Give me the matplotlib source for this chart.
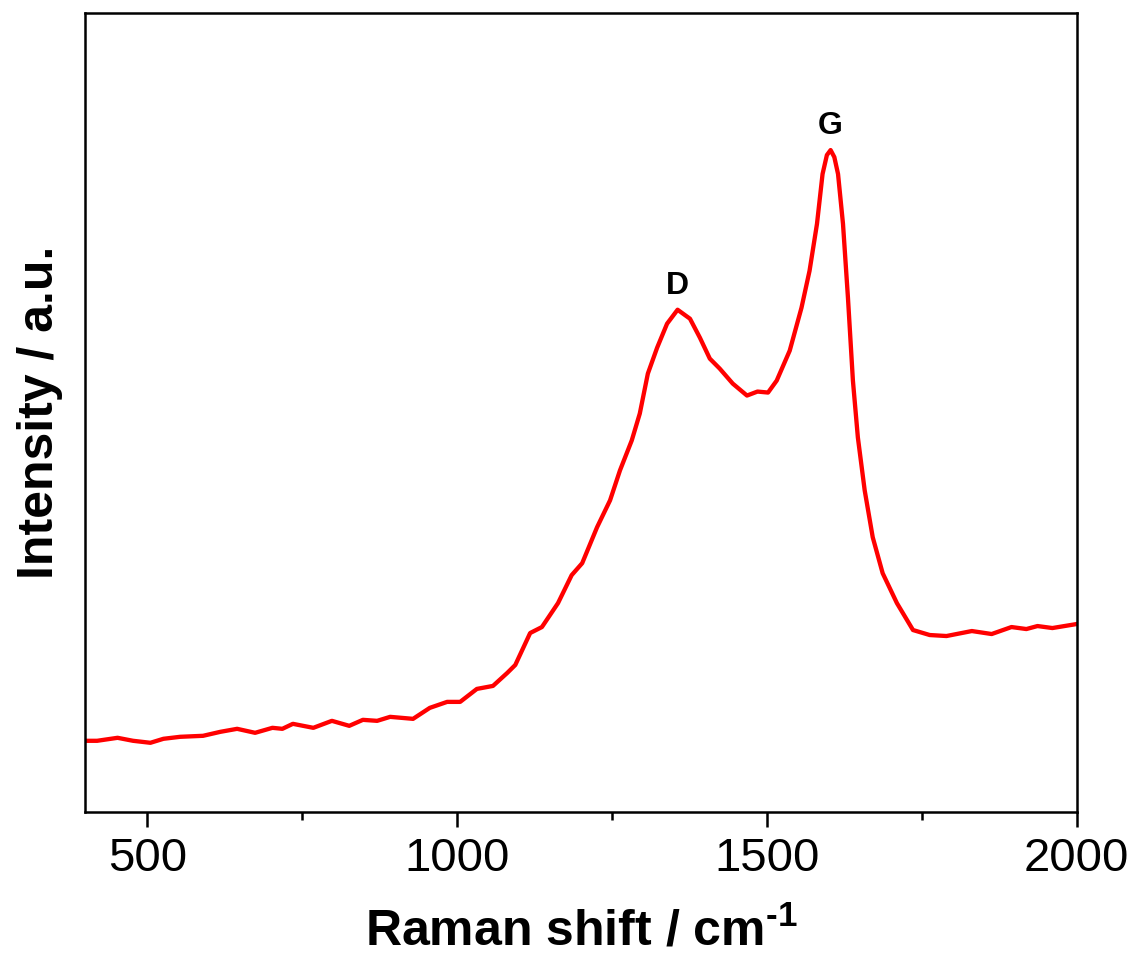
import matplotlib
matplotlib.use("Agg")
import matplotlib.pyplot as plt

plt.rcParams['font.family'] = ['Liberation Sans', 'DejaVu Sans']
plt.rcParams['mathtext.fontset'] = 'custom'
plt.rcParams['mathtext.rm'] = 'Liberation Sans'
plt.rcParams['mathtext.bf'] = 'Liberation Sans:bold'

# Raman spectrum (intensity in arbitrary units)
shift = [400, 419, 452, 477, 505, 526, 553, 590, 618, 645, 674, 702, 718, 735,
         768, 798, 826, 848, 871, 892, 929, 956, 984, 1005, 1032, 1058, 1081,
         1094, 1118, 1137, 1163, 1185, 1202, 1226, 1247, 1263, 1282, 1295,
         1308, 1323, 1339, 1356, 1376, 1392, 1408, 1424, 1445, 1468, 1485,
         1502, 1516, 1537, 1556, 1569, 1581, 1590, 1597, 1603, 1609, 1615,
         1623, 1631, 1639, 1647, 1658, 1671, 1687, 1710, 1736, 1763, 1790,
         1831, 1863, 1895, 1919, 1937, 1961, 2000]
intensity = [71, 71, 74, 71, 69, 73, 75, 76, 80, 83, 79, 84, 83, 88,
             84, 91, 86, 92, 91, 95, 93, 104, 110, 110, 123, 126, 139,
             147, 179, 185, 209, 237, 249, 285, 312, 342, 372, 399,
             439, 465, 489, 503, 494, 475, 454, 444, 429, 417, 421,
             420, 432, 462, 505, 542, 589, 639, 658, 663, 656, 639,
             589, 515, 432, 375, 322, 275, 239, 209, 182, 177, 176,
             181, 178, 185, 183, 186, 184, 188]

peak_names = ['D', 'G']
peak_pos = [1356, 1603]
peak_height = [503, 663]

fig, ax = plt.subplots(figsize=(11.38, 9.56), dpi=100)
fig.subplots_adjust(left=0.075, right=0.946, top=0.986, bottom=0.151)

ax.plot(shift, intensity, color='#ff0000', lw=3.1, solid_joinstyle='round')

for name, xp, yp in zip(peak_names, peak_pos, peak_height):
    ax.text(xp, yp + 9, name, ha='center', va='bottom', fontsize=23,
            fontweight='bold')

ax.set_xlim(400, 2000)
ax.set_ylim(0, 800)
ax.set_xticks([500, 1000, 1500, 2000])
ax.set_xticks([750, 1250, 1750], minor=True)
ax.set_yticks([])
ax.tick_params(axis='x', which='major', direction='out', length=11, width=1.8,
               labelsize=34, pad=7)
ax.tick_params(axis='x', which='minor', direction='out', length=6, width=1.8)
for sp in ax.spines.values():
    sp.set_linewidth(1.8)

ax.set_xlabel('Raman shift / cm$^{\\mathbf{\u20101}}$', fontsize=36,
              fontweight='bold', labelpad=19)
ax.set_ylabel('Intensity / a.u.', fontsize=36, fontweight='bold', labelpad=16)

plt.savefig('out.png', dpi=100)
